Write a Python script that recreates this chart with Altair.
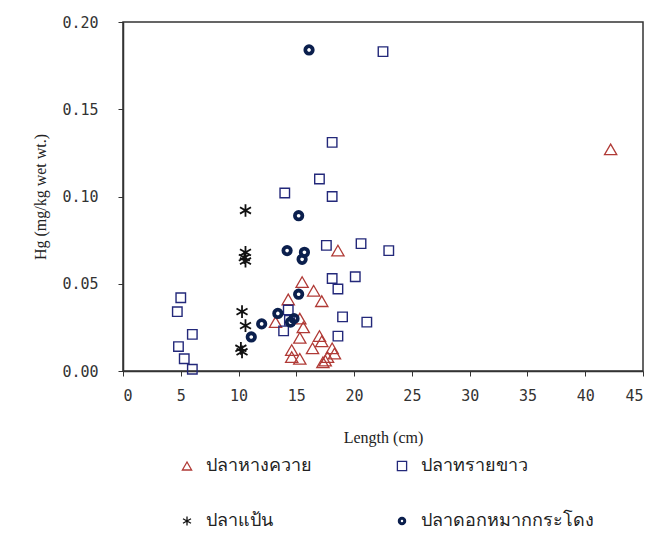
import altair as alt
import pandas as pd

species_names = ["ปลาหางควาย", "ปลาทรายขาว", "ปลาแป้น", "ปลาดอกหมากกระโดง"]

# ปลาหางควาย (triangles)
tri_len = [42.2, 18.6, 15.5, 16.5, 17.2, 14.3, 13.2, 15.3, 15.6, 15.3, 17.0, 17.2,
           16.4, 18.1, 18.3, 14.6, 14.6, 15.3, 17.3, 17.5, 17.7]
tri_hg = [0.127, 0.069, 0.051, 0.046, 0.040, 0.041, 0.028, 0.030, 0.025, 0.019, 0.020, 0.017,
          0.013, 0.013, 0.010, 0.012, 0.008, 0.007, 0.005, 0.006, 0.008]

# ปลาทรายขาว (squares)
sq_len = [5.0, 4.7, 6.0, 4.8, 5.3, 6.0, 14.0, 22.5, 18.1, 17.0, 18.1, 17.6, 20.6, 23.0,
          20.1, 18.1, 18.6, 19.0, 21.1, 18.6, 14.3, 13.9, 14.4]
sq_hg = [0.042, 0.034, 0.021, 0.014, 0.007, 0.001, 0.102, 0.183, 0.131, 0.110, 0.100, 0.072,
         0.073, 0.069, 0.054, 0.053, 0.047, 0.031, 0.028, 0.020, 0.035, 0.023, 0.029]

# ปลาแป้น (asterisks)
ast_len = [10.6, 10.6, 10.5, 10.6, 10.3, 10.6, 10.2, 10.3]
ast_hg = [0.092, 0.068, 0.065, 0.063, 0.034, 0.026, 0.013, 0.011]

# ปลาดอกหมากกระโดง (circles)
cir_len = [16.1, 15.2, 14.2, 15.7, 15.5, 15.2, 13.4, 14.5, 12.0, 11.1, 14.8]
cir_hg = [0.184, 0.089, 0.069, 0.068, 0.064, 0.044, 0.033, 0.028, 0.027, 0.0195, 0.030]

marker_size = {"ปลาหางควาย": 150, "ปลาทรายขาว": 90, "ปลาแป้น": 160, "ปลาดอกหมากกระโดง": 55}
marker_stroke = {"ปลาหางควาย": 1.3, "ปลาทรายขาว": 1.4, "ปลาแป้น": 1.8, "ปลาดอกหมากกระโดง": 3.8}

rows = []
for name, xs, ys in zip(species_names,
                        [tri_len, sq_len, ast_len, cir_len],
                        [tri_hg, sq_hg, ast_hg, cir_hg]):
    for x, y in zip(xs, ys):
        rows.append({"Length": x, "Hg": y, "species": name,
                     "msize": marker_size[name], "mstroke": marker_stroke[name]})
df = pd.DataFrame(rows)

asterisk = "M0,-1L0,1M-0.87,-0.5L0.87,0.5M-0.87,0.5L0.87,-0.5"

legend = alt.Legend(
    title=None, orient="none", legendX=55, legendY=435, columns=2, direction="horizontal",
    columnPadding=81, rowPadding=37, labelFont="Noto Sans", labelFontSize=18,
    labelColor="#222", labelOffset=10, labelLimit=400,
    symbolStrokeWidth=alt.ExprRef(expr="datum.value === 'ปลาดอกหมากกระโดง' ? 3 : 1.3"),
    symbolSize=alt.ExprRef(expr="datum.value === 'ปลาดอกหมากกระโดง' ? 30 : 85"),
)

chart = alt.Chart(df).mark_point(filled=False, opacity=1).encode(
    x=alt.X("Length:Q", title="Length (cm)",
            scale=alt.Scale(domain=[0, 45], nice=False),
            axis=alt.Axis(values=list(range(0, 46, 5)), titleX=260, titleY=66,
                          titleBaseline="middle")),
    y=alt.Y("Hg:Q", title="Hg (mg/kg wet wt.)",
            scale=alt.Scale(domain=[0, 0.2], nice=False),
            axis=alt.Axis(values=[0, 0.05, 0.10, 0.15, 0.20], format=".2f",
                          titleX=-83, titleY=174.5, titleAngle=-90,
                          titleBaseline="middle", labelPadding=20)),
    shape=alt.Shape("species:N", legend=legend,
                    scale=alt.Scale(domain=species_names,
                                    range=["triangle-up", "square", asterisk, "circle"])),
    color=alt.Color("species:N", legend=legend,
                    scale=alt.Scale(domain=species_names,
                                    range=["#b03a36", "#23287a", "#111111", "#0b1f4d"])),
    size=alt.Size("msize:Q", scale=None, legend=None),
    strokeWidth=alt.StrokeWidth("mstroke:Q", scale=None, legend=None),
).properties(
    width=520, height=349,
    autosize=alt.AutoSizeParams(type="none"),
    padding={"left": 115, "top": 14, "right": 3, "bottom": 169},
).configure_view(
    stroke="#333", strokeWidth=1.5
).configure_axis(
    grid=False, domainColor="#333", domainWidth=1.5, tickColor="#333", tickSize=5,
    labelFont="DejaVu Sans Mono", labelFontSize=15, labelColor="#333",
    labelPadding=12, titleFont="Liberation Serif", titleFontSize=16,
    titleFontWeight="normal", titleColor="#222",
)

chart.save("out.html", embed_options={"renderer": "svg", "actions": False})
